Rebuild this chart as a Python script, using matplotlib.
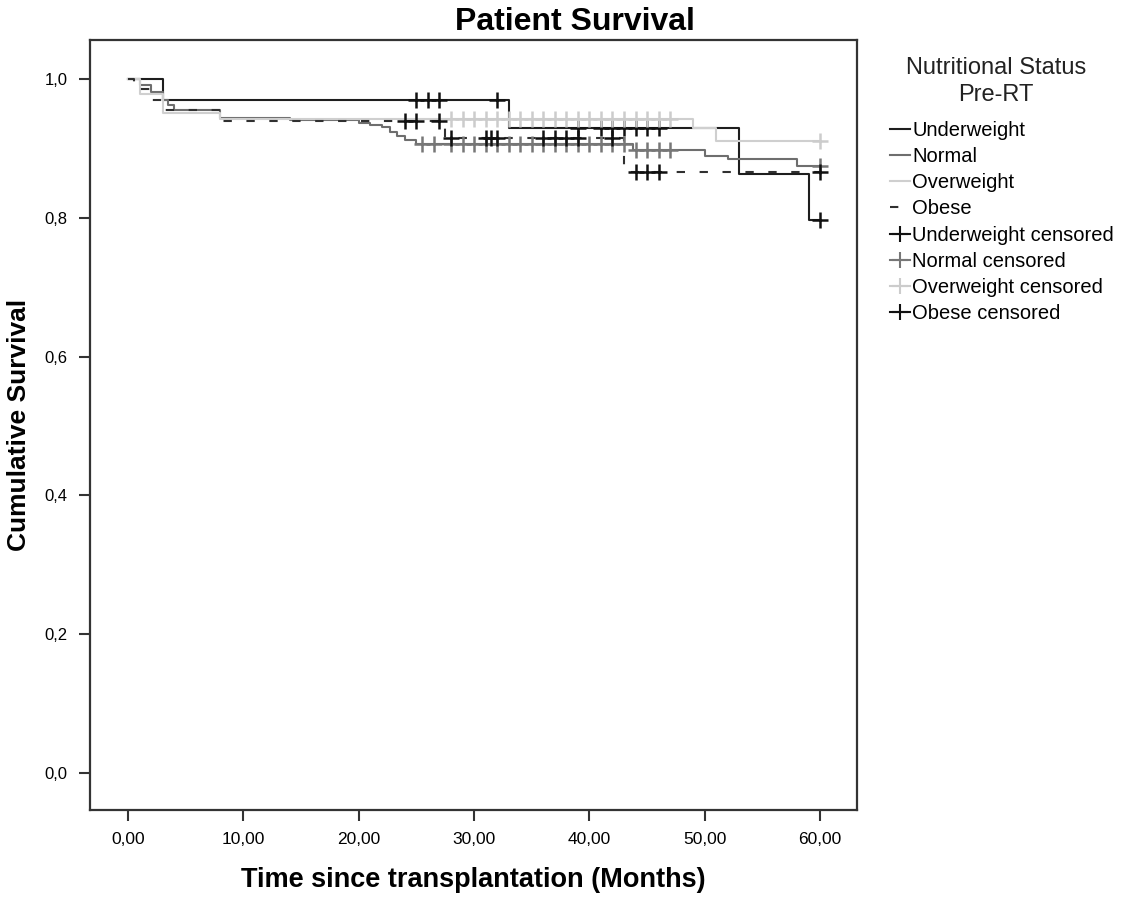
import numpy as np
import matplotlib.pyplot as plt
from matplotlib.lines import Line2D

plt.rcParams['font.family'] = ['Liberation Sans', 'DejaVu Sans']

# Kaplan-Meier steps per nutritional group (time in months, cumulative survival)
uw_times = [0, 3, 33, 53, 59, 60]
uw_surv = [1.0, 0.969, 0.929, 0.863, 0.797, 0.797]
uw_cens = [25, 26, 27, 32, 39, 41, 42, 43, 44, 45, 46, 60]

nm_times = [0, 1, 2, 3, 3.5, 4, 8, 14, 20, 21, 22, 22.7, 23.3, 24, 25, 43.8, 50, 52, 58, 60]
nm_surv = [1.0, 0.991, 0.981, 0.970, 0.962, 0.955, 0.944, 0.941, 0.937, 0.934, 0.930,
           0.924, 0.917, 0.912, 0.906, 0.898, 0.889, 0.884, 0.875, 0.875]
nm_cens = [25.5, 26.5, 28, 29, 30, 31, 32, 33, 34, 35, 36, 37, 38, 39, 40, 41, 42, 43,
           44, 45, 46, 47, 60]

ow_times = [0, 1, 3, 8, 49, 51, 60]
ow_surv = [1.0, 0.978, 0.951, 0.942, 0.929, 0.911, 0.911]
ow_cens = [28, 29, 30, 31, 32, 33, 34, 35, 36, 37, 38, 39, 40, 41, 42, 43, 44, 45, 46, 47, 60]

ob_times = [0, 0.5, 2, 3, 8, 27.5, 43, 60]
ob_surv = [1.0, 0.985, 0.970, 0.955, 0.940, 0.915, 0.866, 0.866]
ob_cens = [24, 25, 27, 28, 31, 31.5, 32, 36, 37, 38, 39, 42, 44, 45, 46, 60]

groups = ["Underweight", "Normal", "Overweight", "Obese"]
colors = ["#1e1e1e", "#6e6e6e", "#cfcfcf", "#303030"]
styles = ["-", "-", "-", (0, (4, 7))]
cens_colors = ["#111111", "#777777", "#cccccc", "#111111"]
data = [(uw_times, uw_surv, uw_cens), (nm_times, nm_surv, nm_cens),
        (ow_times, ow_surv, ow_cens), (ob_times, ob_surv, ob_cens)]

fig = plt.figure(figsize=(11.27, 9), dpi=100)
ax = fig.add_axes([0.0799, 0.1, 0.6805, 0.8556])

for (t, s, c), col, ls in zip(data, colors, styles):
    ax.step(t, s, where="post", color=col, lw=1.5, linestyle=ls)

# censor marks sit on the step curve
for (t, s, c), ccol in zip(data, cens_colors):
    idx = np.searchsorted(t, c, side="right") - 1
    ax.plot(c, np.array(s)[idx], linestyle="none", marker="+", ms=11, mew=1.8, color=ccol)

ax.set_xlim(-3.3, 63.2)
ax.set_ylim(-0.053, 1.056)
xt = np.arange(0, 61, 10)
yt = np.arange(0, 1.01, 0.2)
ax.set_xticks(xt)
ax.set_xticklabels([f"{v:.2f}".replace(".", ",") for v in xt], fontsize=12.5)
ax.set_yticks(yt)
ax.set_yticklabels([f"{v:.1f}".replace(".", ",") for v in yt], fontsize=12)
ax.tick_params(direction="out", length=8, width=1.5, color="#333333", pad=8)
for sp in ax.spines.values():
    sp.set_linewidth(1.6)
    sp.set_color("#333333")

ax.set_xlabel("Time since transplantation (Months)", fontsize=19.5, fontweight="bold", labelpad=14)
ax.set_ylabel("Cumulative Survival", fontsize=19, fontweight="bold", labelpad=10)
fig.text(0.51, 0.976, "Patient Survival", ha="center", va="center", fontsize=23, fontweight="bold")

# legend title drawn on its own so it can sit over the labels
fig.text(0.884, 0.909, "Nutritional Status\nPre-RT", ha="center", va="center",
         fontsize=17, multialignment="center", linespacing=1.3, color="#222222")

handles = [Line2D([], [], color=col, lw=1.5, linestyle=ls) for col, ls in zip(colors, styles)]
handles += [Line2D([], [], color=ccol, lw=1.5, marker="+", ms=11, mew=1.5) for ccol in cens_colors]
labels = groups + [g + " censored" for g in groups]
leg = fig.legend(handles, labels, loc="upper left", bbox_to_anchor=(0.790, 0.866),
                 frameon=False, fontsize=14.5, handlelength=1.0, handletextpad=0.1,
                 labelspacing=0.36, borderaxespad=0, borderpad=0)

fig.savefig("out.png", dpi=100, facecolor="white")
